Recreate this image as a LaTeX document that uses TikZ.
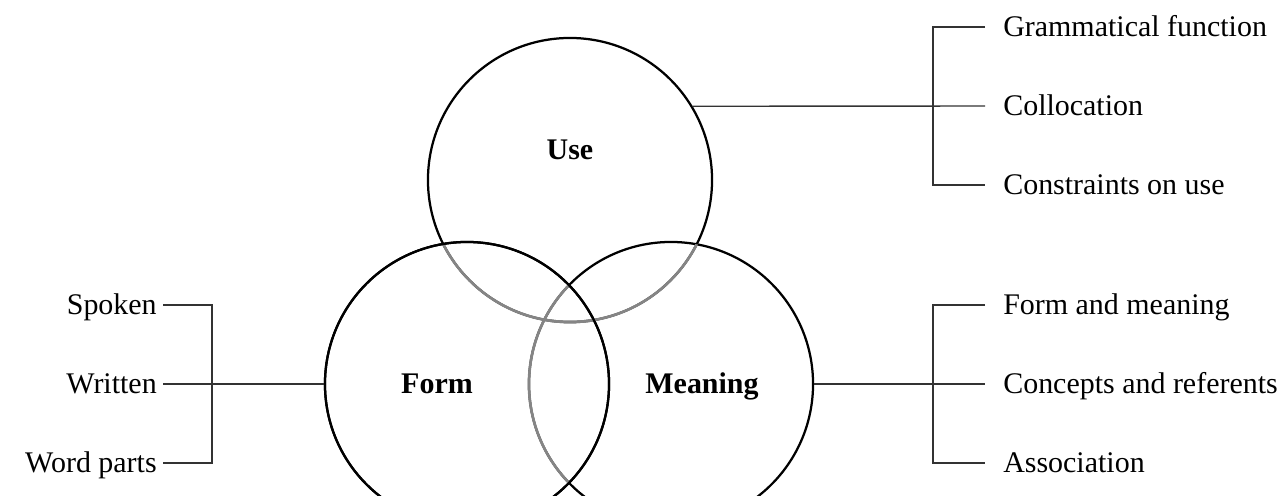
\documentclass[tikz,border=0pt]{standalone}
\usepackage{fontspec}
\setmainfont{Liberation Serif}

\begin{document}
\begin{tikzpicture}[x=0.025cm, y=-0.025cm,
    ring/.style={circle, draw, line width=1.6pt, minimum size=7.1cm, inner sep=0pt},
    faded/.style={draw=black!48, line width=1.9pt},
    brace/.style={line width=1pt, black!80},
    item/.style={inner sep=0pt, text height=0.45cm, text depth=0pt,
      font=\fontsize{21.3}{25}\selectfont},
    title/.style={inner sep=0pt, text height=0.45cm, text depth=0pt,
      font=\fontsize{21.3}{25}\selectfont\bfseries},
    ]
  \clip (0,0) rectangle (1281,495);

  % the three circles
  \node[ring] (use) at (570,180) {};
  \node[ring] (meaning) at (671,384) {};
  \node[ring] (form) at (467,384) {};
  \begin{scope}
    \clip (form.center) circle[radius=3.55cm];
    \draw[faded] (use.center) circle[radius=3.55cm];
    \draw[faded] (meaning.center) circle[radius=3.55cm];
  \end{scope}
  \begin{scope}
    \clip (meaning.center) circle[radius=3.55cm];
    \draw[faded] (use.center) circle[radius=3.55cm];
  \end{scope}
  \draw[line width=1.6pt] (form.center) circle[radius=3.55cm];

  \node[title] (uselbl) at (570,150) {Use};
  \node[title] (formlbl) at (437,384) {Form};
  \node[title] (meanlbl) at (702,384) {Meaning};

  % form
  \node[item, anchor=east] (spoken) at (157,305) {Spoken};
  \node[item, anchor=east] (written) at (157,384) {Written};
  \node[item, anchor=east] (parts) at (157,463) {Word parts};
  \coordinate (lbr) at (212,384);
  \draw[brace] ([xshift=0.15cm]spoken.east) -| (lbr) |- ([xshift=0.15cm]parts.east);
  \draw[brace] ([xshift=0.15cm]written.east) -- (form.west);

  % use
  \node[item, anchor=west] (gram) at (1003,27) {Grammatical function};
  \node[item, anchor=west] (coll) at (1003,106) {Collocation};
  \node[item, anchor=west] (cons) at (1003,185) {Constraints on use};
  \coordinate (ubr) at (933,106);
  \draw[brace] ([xshift=-0.45cm]gram.west) -| (ubr) |- ([xshift=-0.45cm]cons.west);
  \draw[brace] (use.31.13) -- ([xshift=-0.45cm]coll.west);

  % meaning
  \node[item, anchor=west] (fam) at (1003,305) {Form and meaning};
  \node[item, anchor=west] (conc) at (1003,384) {Concepts and referents};
  \node[item, anchor=west] (assoc) at (1003,463) {Association};
  \coordinate (mbr) at (933,384);
  \draw[brace] ([xshift=-0.45cm]fam.west) -| (mbr) |- ([xshift=-0.45cm]assoc.west);
  \draw[brace] (meaning.east) -- ([xshift=-0.45cm]conc.west);
\end{tikzpicture}
\end{document}
